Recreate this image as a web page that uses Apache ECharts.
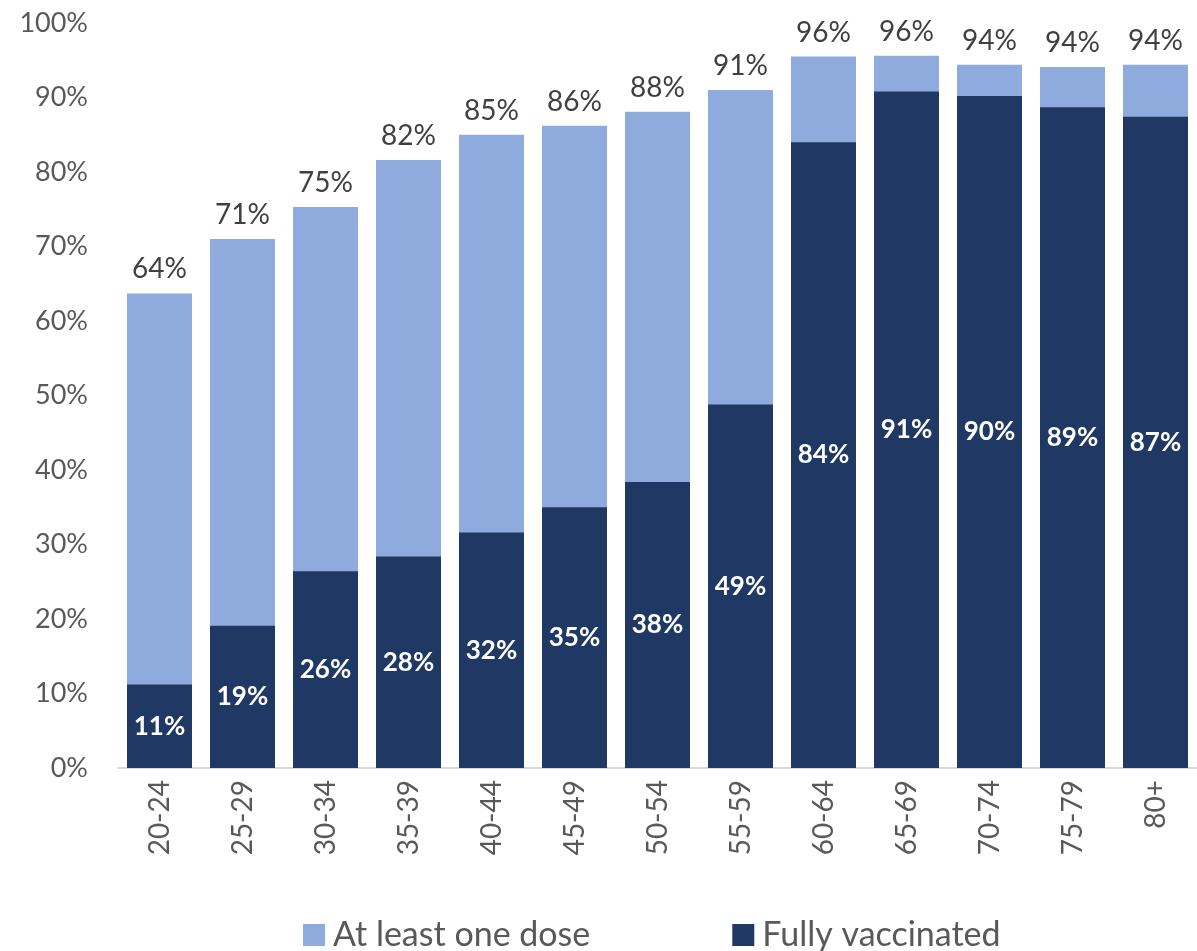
<!DOCTYPE html>
<html>
<head>
<meta charset="utf-8">
<script src="https://cdn.jsdelivr.net/npm/echarts@6/dist/echarts.min.js"></script>
<style>
html, body { margin: 0; padding: 0; background: #fff; }
#chart { width: 1197px; height: 951px; }
</style>
</head>
<body>
<div id="chart"></div>
<script>
var ageGroups = ["20-24", "25-29", "30-34", "35-39", "40-44", "45-49", "50-54", "55-59", "60-64", "65-69", "70-74", "75-79", "80+"];
var atLeastOneDose = [63.7, 71.0, 75.3, 81.6, 85.0, 86.2, 88.1, 91.0, 95.5, 95.6, 94.4, 94.1, 94.4];
var fullyVaccinated = [11.2, 19.1, 26.4, 28.4, 31.6, 35.0, 38.4, 48.8, 84.0, 90.8, 90.2, 88.7, 87.4];
var yTicks = [0, 10, 20, 30, 40, 50, 60, 70, 80, 90, 100];

var fontName = "Lato, 'Open Sans', sans-serif";
var chart = echarts.init(document.getElementById('chart'));

var option = {
	animation : false,
	textStyle : {
		fontFamily : fontName
	},
	grid : {
		left : 118,
		right : 0,
		top : 23,
		bottom : 183
	},
	legend : {
		bottom : -1,
		left : 303,
		padding : 0,
		itemWidth : 22,
		itemHeight : 22,
		itemGap : 142,
		icon : 'rect',
		textStyle : {
			fontSize : 34,
			color : '#595959',
			fontFamily : fontName,
			padding : [ 0, 0, 0, 3 ]
		},
		data : [ 'At least one dose', 'Fully vaccinated' ]
	},
	xAxis : {
		type : 'category',
		data : ageGroups,
		axisTick : { show : false },
		axisLine : { lineStyle : { color : '#d9d9d9', width : 2 } },
		axisLabel : {
			rotate : 90,
			fontSize : 28,
			color : '#595959',
			margin : 12,
			interval : 0
		}
	},
	yAxis : {
		type : 'value',
		min : yTicks[0],
		max : yTicks[yTicks.length - 1],
		interval : 10,
		splitLine : { show : false },
		axisLine : { show : false },
		axisTick : { show : false },
		axisLabel : {
			fontSize : 27,
			color : '#595959',
			margin : 30,
			formatter : '{value}%'
		}
	},
	series : [ {
		name : 'At least one dose',
		type : 'bar',
		data : atLeastOneDose,
		barWidth : 65,
		barGap : '-100%',
		itemStyle : { color : '#8faadc' },
		label : {
			show : true,
			position : 'top',
			distance : 10,
			fontSize : 28,
			color : '#404040',
			formatter : function(p) {
				return Math.round(p.value) + '%';
			}
		}
	}, {
		name : 'Fully vaccinated',
		type : 'bar',
		data : fullyVaccinated,
		barWidth : 65,
		barGap : '-100%',
		itemStyle : { color : '#203864' },
		label : {
			show : true,
			position : 'inside',
			fontSize : 26,
			fontWeight : 'bold',
			color : '#ffffff',
			formatter : function(p) {
				return Math.round(p.value) + '%';
			}
		}
	} ]
};
chart.setOption(option);
</script>
</body>
</html>
